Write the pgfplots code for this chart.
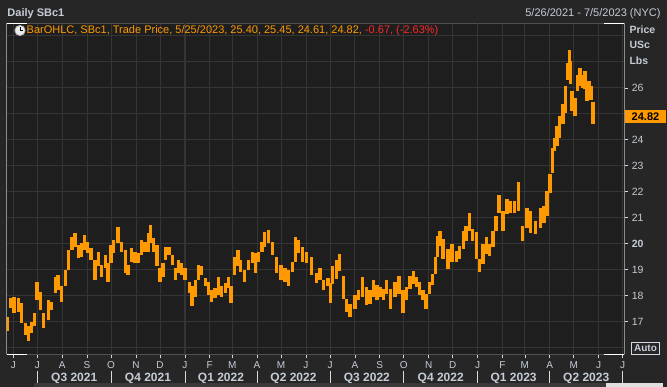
\documentclass[border=0pt]{standalone}
\usepackage{pgfplots}
\pgfplotsset{compat=1.18}
\usepackage{pgfplotstable}
\usepackage{fontspec}
\setmainfont{Liberation Sans}
\definecolor{outerbg}{HTML}{262626}
\definecolor{plotbg}{HTML}{1E1E1E}
\definecolor{gridc}{HTML}{353535}
\definecolor{framec}{HTML}{505050}
\definecolor{txt}{HTML}{C5CCD6}
\definecolor{barc}{HTML}{FF9900}
\definecolor{redtxt}{HTML}{FF2626}
\pgfplotstableread{
d lo hi
-7.3 16.65 17.19
-3.5 17.51 17.90
0.8 17.32 17.94
6.2 17.38 17.90
10.4 16.94 17.71
15.0 16.49 16.94
18.7 16.23 16.81
22.9 16.55 17.00
26.4 16.81 17.32
29.7 17.83 18.54
33.9 17.45 18.15
37.4 16.74 17.32
43.7 17.06 17.83
47.8 17.45 17.77
52.6 18.09 18.73
55.7 18.22 18.79
60.3 17.77 18.35
64.9 18.35 18.99
69.2 18.99 19.76
73.2 19.76 20.27
76.9 19.88 20.40
81.1 19.44 19.95
85.2 19.50 20.01
89.0 19.76 20.33
92.7 19.63 20.08
96.9 19.37 19.82
101.9 18.60 19.37
106.4 19.12 19.69
110.2 18.73 19.18
114.8 19.05 19.56
118.1 18.54 19.24
121.6 19.24 19.95
124.7 19.63 20.14
130.6 20.01 20.65
134.7 19.69 20.08
139.7 18.86 19.76
143.0 18.79 19.18
147.6 19.31 19.82
151.8 19.24 19.69
156.3 19.24 19.63
160.1 19.56 20.14
164.2 19.69 20.08
168.4 19.69 20.40
170.9 20.01 20.72
174.6 19.69 20.21
179.4 19.12 19.95
183.2 18.54 19.05
186.5 18.73 19.24
189.6 19.37 19.88
194.2 19.56 19.88
198.5 19.18 19.56
202.1 18.60 19.05
205.8 18.86 19.37
210.0 18.79 19.24
214.1 18.60 19.05
219.8 18.09 18.54
222.9 17.60 18.35
227.0 17.96 18.60
230.8 18.60 19.18
234.9 18.79 19.12
239.5 18.35 18.67
243.2 18.03 18.54
247.4 17.77 18.22
251.6 17.90 18.28
255.7 18.03 18.73
259.9 17.96 18.35
264.4 18.09 18.47
268.2 18.28 18.73
271.3 17.71 18.35
276.1 18.79 19.50
280.2 19.12 19.76
283.4 18.92 19.37
288.4 18.54 18.99
293.1 18.99 19.37
298.1 19.24 19.69
301.9 18.86 19.63
306.0 19.31 19.69
310.2 19.69 20.08
313.5 19.88 20.46
318.1 20.01 20.53
323.1 19.56 20.08
328.5 18.86 19.50
333.9 18.60 19.18
338.9 18.54 19.05
343.5 18.35 18.99
348.2 18.92 19.31
351.8 19.31 20.27
355.5 19.63 20.14
360.5 19.31 19.88
365.9 19.24 19.69
371.7 18.79 19.50
378.4 18.47 18.86
382.5 18.60 19.05
386.7 18.22 18.60
392.5 18.35 18.67
395.5 17.70 18.50
398.3 18.45 19.15
403.3 18.64 19.35
407.0 18.96 19.60
411.6 17.88 18.77
415.7 17.37 17.88
419.9 17.18 17.69
426.1 17.50 18.01
430.2 17.82 18.20
435.2 17.94 18.71
440.6 17.62 18.33
444.8 17.69 18.20
448.9 17.94 18.58
453.5 17.82 18.39
457.2 17.94 18.33
461.8 17.82 18.26
465.5 18.07 18.58
470.5 17.50 18.26
475.8 17.94 18.52
480.8 18.07 18.77
486.2 17.31 18.20
490.0 17.82 18.33
494.5 18.26 18.77
499.1 18.45 18.96
503.2 18.33 18.71
506.9 18.01 18.52
511.1 17.82 18.20
514.6 17.50 18.07
519.0 18.07 18.52
522.9 18.39 18.84
526.2 18.84 19.47
529.1 19.47 20.30
532.2 19.92 20.49
536.0 19.41 20.18
542.2 19.03 19.79
547.2 19.28 19.98
552.5 19.28 19.73
556.7 19.41 19.92
561.3 19.79 20.49
564.6 20.11 20.68
569.1 20.49 21.19
572.9 20.11 20.56
577.4 19.41 20.43
581.6 18.90 19.41
585.7 19.22 19.98
589.9 19.60 20.24
594.0 19.54 19.98
598.2 19.86 20.49
601.9 20.49 21.07
605.6 21.19 21.87
610.6 20.49 21.26
615.6 21.13 21.70
620.1 21.19 21.64
625.1 21.19 21.64
629.9 21.26 22.37
635.1 20.10 20.68
640.5 20.62 21.38
645.0 20.42 21.26
651.3 20.36 20.87
657.5 20.62 21.38
662.0 20.81 21.45
665.8 21.06 22.03
669.1 21.96 22.67
672.6 22.73 23.69
675.3 23.56 24.08
678.2 23.76 24.53
681.5 24.08 24.91
685.7 24.59 25.36
689.0 25.04 26.06
691.5 26.32 26.96
693.3 26.77 27.44
695.0 26.13 27.03
696.8 25.10 25.87
700.4 24.91 25.62
703.5 25.87 26.51
706.8 26.06 26.77
709.9 26.00 26.51
712.8 25.94 26.64
715.5 25.49 26.13
718.2 25.68 26.26
720.3 25.55 26.06
723.0 24.61 25.45
}\sbdata
\begin{document}
\begin{tikzpicture}[x=1pt,y=1pt]
\fill[outerbg] (0,0) rectangle (667,387);
\fill[plotbg] (6.7,32.7) rectangle (624.3,363.7);
\begin{axis}[
  at={(6.7pt,32.7pt)}, anchor=south west,
  scale only axis, width=617.6pt, height=331pt,
  xmin=-8.23, xmax=762, ymin=15.737, ymax=28.487,
  axis line style={draw=framec, line width=0.8pt},
  grid=major,
  major grid style={draw=gridc, line width=0.9pt},
  tick align=outside,
  major tick length=4pt,
  tick style={draw=txt!80, line width=0.6pt},
  xtick pos=left,
  ytick pos=right,
  yticklabel pos=right,
  xtick={0,30,61,92,122,153,183,214,245,273,304,334,365,395,426,457,487,518,548,579,610,638,669,699,730,760},
  xticklabels={J,J,A,S,O,N,D,J,F,M,A,M,J,J,A,S,O,N,D,J,F,M,A,M,J,J},
  extra x ticks={214,579},
  extra x tick labels={},
  extra x tick style={major tick length=0pt, major grid style={draw=gridc, line width=1.8pt}},
  ytick={17,18,19,20,21,22,23,24,25,26},
  yticklabels={17,18,19,\textbf{20},21,22,23,24,{},26},
  extra y ticks={16,27,28},
  extra y tick labels={},
  extra y tick style={major tick length=0pt},
  xticklabel style={font=\fontsize{10}{12}\selectfont, text=txt},
  yticklabel style={font=\fontsize{10.5}{12}\selectfont, text=txt},
]
\addplot[barc, line width=3.4pt, quiver={u=0, v=\thisrow{hi}-\thisrow{lo}}] table[x=d, y=lo] {\sbdata};
\draw[white, line width=0.9pt] (rel axis cs:0,0) -- (rel axis cs:0,1);
\draw[white, line width=0.9pt] (rel axis cs:1,0) -- (rel axis cs:1,1);
\end{axis}
% corner brackets
\draw[white, line width=0.9pt] (6.7,363.7) -- (27,363.7);
\draw[white, line width=0.9pt] (604,363.7) -- (624.3,363.7);
\draw[white, line width=0.9pt] (6.7,32.7) -- (27,32.7);
\draw[white, line width=0.9pt] (604,32.7) -- (624.3,32.7);
% header
\node[anchor=west, text=txt, font=\bfseries\fontsize{11}{13}\selectfont, inner sep=0pt] at (7.3,373) {Daily SBc1};
\node[anchor=east, text=txt, font=\fontsize{11}{13}\selectfont, inner sep=0pt] at (660.7,373) {5/26/2021 - 7/5/2023 (NYC)};
% legend line
\fill[gray!60] (20,356.5) circle (5.6);
\fill[white!85!gray] (20,356.5) circle (4.6);
\draw[black, line width=0.8pt] (20,356.5) -- (20,360) (20,356.5) -- (22.8,356.5);
\node[anchor=west, font=\fontsize{11}{13}\selectfont, inner sep=0pt] at (26.5,356) {\textcolor{barc}{BarOHLC, SBc1, Trade Price, 5/25/2023, 25.40, 25.45, 24.61, 24.82, }\textcolor{redtxt}{-0.67, (-2.63\%)}};
% unit labels
\node[anchor=west, text=txt, font=\bfseries\fontsize{10.5}{12}\selectfont, inner sep=0pt] at (629.3,356.8) {Price};
\node[anchor=west, text=txt, font=\bfseries\fontsize{10.5}{12}\selectfont, inner sep=0pt] at (629.3,342) {USc};
\node[anchor=west, text=txt, font=\bfseries\fontsize{10.5}{12}\selectfont, inner sep=0pt] at (629.3,326.7) {Lbs};
% last price box
\fill[barc] (625,263.7) rectangle (666,277);
\node[text=black, font=\bfseries\fontsize{11}{13}\selectfont, inner sep=0pt] at (645.5,270.3) {24.82};
% Auto box
\draw[fill=outerbg, draw=txt!75, line width=0.8pt] (631.7,33) rectangle (659.3,44.3);
\node[text=txt, font=\bfseries\fontsize{10}{12}\selectfont, inner sep=0pt] at (645.5,38.7) {Auto};
% quarter row
\foreach \xx in {37.35,111.12,184.89,257.05,330.01,403.78,477.54,549.70,622.67}
  \draw[txt!70, line width=0.6pt] (\xx,0) -- (\xx,16);
\foreach \xx/\lab in {74.2/Q3 2021,148.0/Q4 2021,221.0/Q1 2022,293.5/Q2 2022,366.9/Q3 2022,440.7/Q4 2022,513.6/Q1 2023,586.2/Q2 2023}
  \node[text=txt, font=\bfseries\fontsize{12}{14}\selectfont, inner sep=0pt] at (\xx,8.7) {\lab};
% scrollbar strip
\fill[gray!45!black] (34,0) rectangle (606,3.6);
\fill[gray!25] (606,0) rectangle (663,3.6);
\pgfresetboundingbox
\path (0,0) rectangle (667,387);
\end{tikzpicture}
\end{document}
